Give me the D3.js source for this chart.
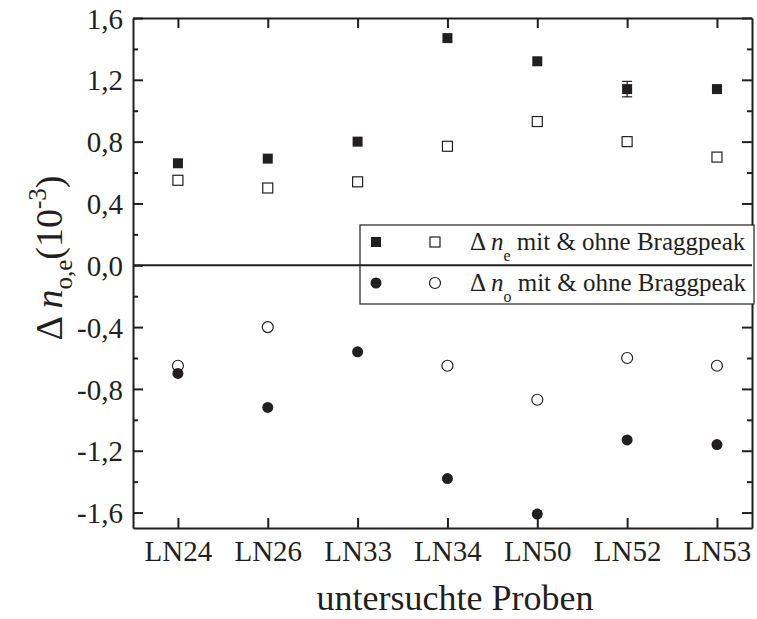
<!DOCTYPE html>
<html>
<head>
<meta charset="utf-8">
<script src="https://cdn.jsdelivr.net/npm/d3@7"></script>
<style>
  body { margin: 0; background: #fff; }
  svg text { font-family: "Liberation Serif", "Times New Roman", "DejaVu Serif", serif; }
</style>
</head>
<body>
<div id="chart"></div>
<script>
var samples = ["LN24", "LN26", "LN33", "LN34", "LN50", "LN52", "LN53"]
var neWith = [0.66, 0.69, 0.80, 1.47, 1.32, 1.14, 1.14]
var neWithErr = [0, 0, 0, 0, 0, 0.05, 0]
var neWithout = [0.55, 0.50, 0.54, 0.77, 0.93, 0.80, 0.70]
var noWith = [-0.70, -0.92, -0.56, -1.38, -1.61, -1.13, -1.16]
var noWithout = [-0.65, -0.40, null, -0.65, -0.87, -0.60, -0.65]
var yTicks = [-1.6, -1.2, -0.8, -0.4, 0, 0.4, 0.8, 1.2, 1.6]
var yMinor = [-1.4, -1.0, -0.6, -0.2, 0.2, 0.6, 1.0, 1.4]

var ink = "#231f20"
var width = 757, height = 619
var plotLeft = 133, plotRight = 752, plotTop = 18, plotBottom = 528

var svg = d3.select("#chart").append("svg")
   .attr("width", width)
   .attr("height", height)

var x = d3.scaleLinear().domain([0.5, 7.39]).range([plotLeft, plotRight])
var y = d3.scaleLinear().domain([-1.7, 1.6]).range([plotBottom, plotTop])
var pos = function(i) { return x(i + 1) }
var idx = d3.range(samples.length).map(function(i) { return i + 1 })
var fmt = function(d) { return d3.format(".1f")(d).replace(".", ",").replace("−", "-") }

function styleAxis(g) {
   g.attr("font-family", null)
   g.selectAll("path.domain").attr("stroke", ink).attr("stroke-width", 2)
   g.selectAll(".tick line").attr("stroke", ink).attr("stroke-width", 2)
   g.selectAll(".tick text")
      .attr("fill", ink)
      .attr("font-size", 29)
}

// left axis: major ticks with labels, minor ticks
svg.append("g")
   .attr("transform", "translate(" + plotLeft + ",0)")
   .call(d3.axisLeft(y).tickValues(yTicks).tickSizeInner(-10).tickSizeOuter(0).tickPadding(10).tickFormat(fmt))
   .call(styleAxis)
   .selectAll(".tick text").attr("dy", "0.35em")
svg.append("g")
   .attr("transform", "translate(" + plotLeft + ",0)")
   .call(d3.axisLeft(y).tickValues(yMinor).tickSize(-5).tickFormat(""))
   .call(styleAxis)
   .select("path.domain").remove()

// right axis
svg.append("g")
   .attr("transform", "translate(" + plotRight + ",0)")
   .call(d3.axisRight(y).tickValues(yTicks).tickSizeInner(-10).tickSizeOuter(0).tickFormat(""))
   .call(styleAxis)
svg.append("g")
   .attr("transform", "translate(" + plotRight + ",0)")
   .call(d3.axisRight(y).tickValues(yMinor).tickSize(-5).tickFormat(""))
   .call(styleAxis)
   .select("path.domain").remove()

// bottom axis
svg.append("g")
   .attr("transform", "translate(0," + plotBottom + ")")
   .call(d3.axisBottom(x).tickValues(idx).tickSizeInner(-10).tickSizeOuter(0).tickPadding(12)
      .tickFormat(function(d) { return samples[d - 1] }))
   .call(styleAxis)
   .selectAll(".tick text").attr("dy", "0.71em")

// top axis
svg.append("g")
   .attr("transform", "translate(0," + plotTop + ")")
   .call(d3.axisTop(x).tickValues(idx).tickSizeInner(-10).tickSizeOuter(0).tickFormat(""))
   .call(styleAxis)

// legend box (drawn under the zero line)
var lg = svg.append("g")
lg.append("rect")
   .attr("x", 360).attr("y", 225)
   .attr("width", 394).attr("height", 79)
   .attr("fill", "#fff").attr("stroke", ink).attr("stroke-width", 1.2)

// zero line
svg.append("line")
   .attr("x1", plotLeft).attr("x2", plotRight)
   .attr("y1", y(0)).attr("y2", y(0))
   .attr("stroke", ink).attr("stroke-width", 2)

// markers
var sq = 10, r = 5.5

var errs = neWith.map(function(v, i) { return { i: i, v: v, e: neWithErr[i] } }).filter(function(d) { return d.e > 0 })
var eg = svg.append("g").attr("stroke", ink).attr("stroke-width", 1.2)
errs.forEach(function(d) {
   eg.append("line").attr("x1", pos(d.i)).attr("x2", pos(d.i)).attr("y1", y(d.v - d.e)).attr("y2", y(d.v + d.e))
   eg.append("line").attr("x1", pos(d.i) - 5).attr("x2", pos(d.i) + 5).attr("y1", y(d.v - d.e)).attr("y2", y(d.v - d.e))
   eg.append("line").attr("x1", pos(d.i) - 5).attr("x2", pos(d.i) + 5).attr("y1", y(d.v + d.e)).attr("y2", y(d.v + d.e))
})

svg.append("g").selectAll("rect")
   .data(neWithout).enter().append("rect")
      .attr("x", function(d, i) { return pos(i) - sq / 2 })
      .attr("y", function(d) { return y(d) - sq / 2 })
      .attr("width", sq).attr("height", sq)
      .attr("fill", "#fff").attr("stroke", ink).attr("stroke-width", 1.2)

svg.append("g").selectAll("rect")
   .data(neWith).enter().append("rect")
      .attr("x", function(d, i) { return pos(i) - sq / 2 })
      .attr("y", function(d) { return y(d) - sq / 2 })
      .attr("width", sq).attr("height", sq)
      .attr("fill", ink)

svg.append("g").selectAll("circle")
   .data(noWithout.map(function(v, i) { return { i: i, v: v } }).filter(function(d) { return d.v != null }))
   .enter().append("circle")
      .attr("cx", function(d) { return pos(d.i) })
      .attr("cy", function(d) { return y(d.v) })
      .attr("r", r)
      .attr("fill", "#fff").attr("stroke", ink).attr("stroke-width", 1.2)

svg.append("g").selectAll("circle")
   .data(noWith).enter().append("circle")
      .attr("cx", function(d, i) { return pos(i) })
      .attr("cy", function(d) { return y(d) })
      .attr("r", r)
      .attr("fill", ink)

// legend entries
var legendRows = [
   { sub: "e", shape: "square", cy: 242 },
   { sub: "o", shape: "circle", cy: 283 }
]
legendRows.forEach(function(row) {
   if(row.shape == "square") {
      lg.append("rect").attr("x", 376 - sq / 2).attr("y", row.cy - sq / 2).attr("width", sq).attr("height", sq).attr("fill", ink)
      lg.append("rect").attr("x", 435 - sq / 2).attr("y", row.cy - sq / 2).attr("width", sq).attr("height", sq)
         .attr("fill", "#fff").attr("stroke", ink).attr("stroke-width", 1.2)
   } else {
      lg.append("circle").attr("cx", 376).attr("cy", row.cy).attr("r", r).attr("fill", ink)
      lg.append("circle").attr("cx", 435).attr("cy", row.cy).attr("r", r)
         .attr("fill", "#fff").attr("stroke", ink).attr("stroke-width", 1.2)
   }
   var t = lg.append("text")
      .attr("x", 470).attr("y", row.cy + 8)
      .attr("font-size", 25).attr("fill", ink)
   t.append("tspan").text("Δ ")
   t.append("tspan").attr("font-style", "italic").text("n")
   t.append("tspan").attr("font-size", 16).attr("dy", 11).text(row.sub)
   t.append("tspan").attr("dy", -11).text(" mit & ohne Braggpeak")
})

// axis titles
svg.append("text")
   .attr("x", 455).attr("y", 610)
   .attr("text-anchor", "middle")
   .attr("font-size", 36).attr("fill", ink)
   .text("untersuchte Proben")

var yt = svg.append("text")
   .attr("transform", "translate(62,258) rotate(-90)")
   .attr("text-anchor", "middle")
   .attr("font-size", 38).attr("fill", ink)
yt.append("tspan").text("Δ ")
yt.append("tspan").attr("font-style", "italic").text("n")
yt.append("tspan").attr("font-size", 25).attr("dy", 10).text("o,e")
yt.append("tspan").attr("dy", -10).text("(10")
yt.append("tspan").attr("font-size", 25).attr("dy", -16).text("-3")
yt.append("tspan").attr("dy", 16).text(")")
</script>
</body>
</html>
